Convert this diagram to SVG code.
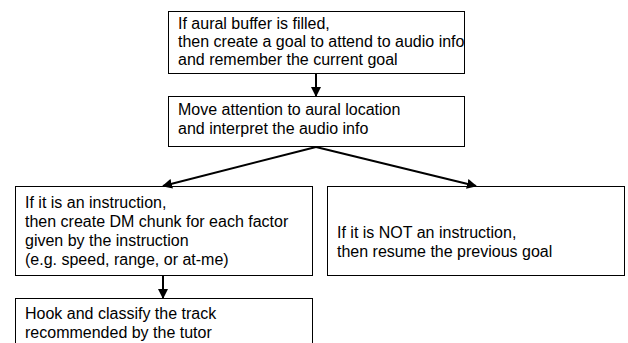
<svg xmlns="http://www.w3.org/2000/svg" width="628" height="343" viewBox="0 0 628 343">
<style>
.box{fill:#fff;stroke:#000;stroke-width:1}
text{font-family:"Liberation Sans",Arial,sans-serif;font-size:16px;fill:#000}
.arr{stroke:#000;stroke-width:2;fill:none;marker-end:url(#ah)}
</style>
<defs>
<marker id="ah" markerWidth="10" markerHeight="10" refX="9" refY="5" orient="auto" markerUnits="userSpaceOnUse">
<path d="M0,0 L10,5 L0,10 Z" fill="#000"/>
</marker>
</defs>
<rect width="628" height="343" fill="#fff"/>
<g id="n1">
<rect class="box" x="168.5" y="11.5" width="296" height="62"/>
<text x="178" y="29">If aural buffer is filled,</text>
<text x="178" y="47">then create a goal to attend to audio info</text>
<text x="178" y="65">and remember the current goal</text>
</g>
<g id="n2">
<rect class="box" x="168.5" y="96.5" width="296" height="50"/>
<text x="178" y="115">Move attention to aural location</text>
<text x="178" y="134">and interpret the audio info</text>
</g>
<g id="n3">
<rect class="box" x="15.5" y="186.5" width="297" height="89"/>
<text x="25" y="208">If it is an instruction,</text>
<text x="25" y="227">then create DM chunk for each factor</text>
<text x="25" y="246">given by the instruction</text>
<text x="25" y="265">(e.g. speed, range, or at-me)</text>
</g>
<g id="n4">
<rect class="box" x="327.5" y="186.5" width="297" height="89"/>
<text x="337" y="238">If it is NOT an instruction,</text>
<text x="337" y="257">then resume the previous goal</text>
</g>
<g id="n5">
<rect class="box" x="15.5" y="298.5" width="297" height="60"/>
<text x="25" y="319">Hook and classify the track</text>
<text x="25" y="338">recommended by the tutor</text>
</g>
<g id="connectors">
<line class="arr" x1="316" y1="74" x2="316" y2="96"/>
<line class="arr" x1="316" y1="147" x2="163" y2="186"/>
<line class="arr" x1="316" y1="147" x2="476" y2="186"/>
<line class="arr" x1="163" y1="276" x2="163" y2="298"/>
</g>
</svg>
